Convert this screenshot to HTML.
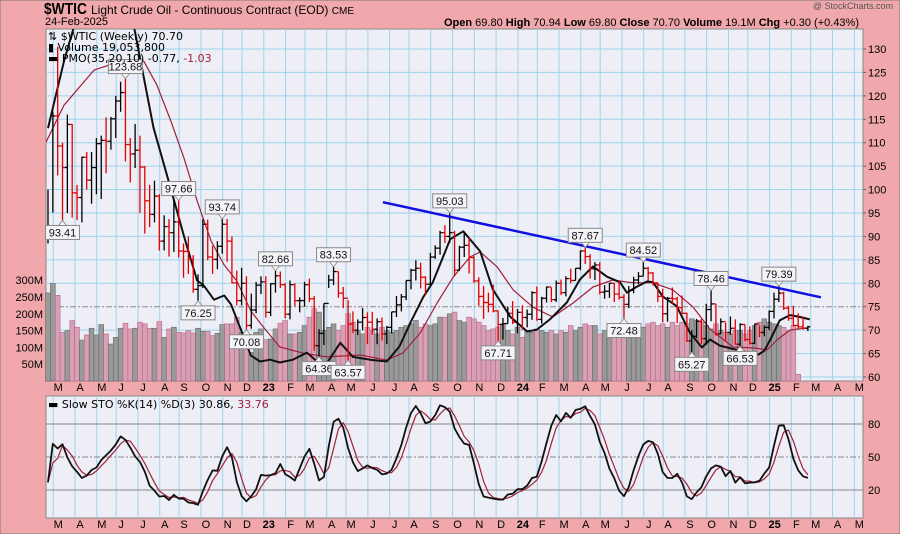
<!DOCTYPE html>
<html><head><meta charset="utf-8"><style>
html,body{margin:0;padding:0;background:#f0a8ac;}
svg{display:block;font-family:"Liberation Sans",sans-serif;}
</style></head><body>
<svg id="chart" width="900" height="534" viewBox="0 0 900 534" xmlns="http://www.w3.org/2000/svg">
<rect x="0" y="0" width="900" height="534" fill="#f0a8ac" stroke="#777"/>
<g>
<text x="44" y="14" font-size="16" font-weight="bold" textLength="43" lengthAdjust="spacingAndGlyphs">$WTIC</text>
<text x="91" y="14" font-size="12">Light Crude Oil - Continuous Contract (EOD) <tspan font-size="10">CME</tspan></text>
<text x="45" y="25" font-size="11">24-Feb-2025</text>
<text x="893" y="9" font-size="9" fill="#555" text-anchor="end">@ StockCharts.com</text>
<text x="859" y="26" font-size="11" text-anchor="end"><tspan font-weight="bold">Open</tspan> 69.80  <tspan font-weight="bold">High</tspan> 70.94  <tspan font-weight="bold">Low</tspan> 69.80  <tspan font-weight="bold">Close</tspan> 70.70  <tspan font-weight="bold">Volume</tspan> 19.1M  <tspan font-weight="bold">Chg</tspan> +0.30 (+0.43%)</text>
</g>
<rect x="46" y="29" width="817" height="352" fill="#eeeef6" stroke="#888"/>
<rect x="46" y="396" width="817" height="122" fill="#eeeef6" stroke="#888"/>
<g id="grid"></g>
<g id="vol"></g>
<g id="pmo"></g>
<g id="bars"></g>
<g id="notes"></g>
<g id="sto"></g>
<g id="axes"></g>
<g font-size="11" font-family="DejaVu Sans, sans-serif">
<text x="48" y="40">⇅ $WTIC (Weekly) 70.70</text>
<text x="48" y="51">▮ Volume 19,053,800</text>
<text x="48" y="62">▬ PMO(35,20,10) -0.77, <tspan fill="#a0203a">-1.03</tspan></text>
</g>
<g font-size="11" font-family="DejaVu Sans, sans-serif">
<text x="48" y="408">▬ Slow STO %K(14) %D(3) 30.86, <tspan fill="#a0203a">33.76</tspan></text>
</g>
</svg>
<script>
const highs=[100,116.6,130.5,110,116,114,101,107,108,108,111,111.5,115.4,115.5,120,123,123.68,111,114,111.5,105,101,101.9,99,94.5,93.7,97.7,97.66,88.5,90,86,81.9,93.7,93.6,88,89,93.74,93.7,90,82.7,83.3,81.5,77.8,80.3,81.5,81.5,80,82.66,82.5,80,80.6,80,77,80.3,81,77.3,70.2,75.7,81.8,83.53,82.5,79.2,76.4,74,72.3,74.7,73.8,73.9,72.5,72.7,70.9,73.9,77.3,77.7,80.6,83.1,84.9,84.4,81.5,86.5,88.1,91.2,92.4,95.03,91.2,88,90.8,89.9,85.8,81.3,79.4,78,79.7,74.2,72.6,75,76.2,74.5,75.3,74.4,78.3,79.3,77.1,79.3,79.1,80.6,80.8,81.5,83.1,83.2,87,87.67,86.2,84.5,84.5,79.6,80.1,80.1,80.6,77.7,79.4,81.4,82.4,84.52,83.5,82.4,80.1,78.8,77.1,79.1,77.1,77.4,73.7,70,72.4,72.4,75.6,78.46,75.6,72.5,71.6,72.9,72.3,71.5,71.2,70.8,71.4,71,71,74.2,78,79.39,78.2,75.2,75.2,73.6,72.9,70.94];
const lows=[88.5,95.1,103,93.41,95,94,93.5,93,100,97,99,98,103.5,108.5,111,116.6,106,101.5,104.6,95,90.6,92,93,87,87,85.7,86.7,85.5,81.2,82,78,76.25,79,84.9,82,83,86.3,84.6,80,75.3,75.3,70.08,70.3,73.6,77.7,72.7,73,78,79,72.5,72.3,75.1,73.8,75,76,65.6,64.36,66.8,79,79.6,76.9,74.7,63.57,69.4,69,70,67,69,67,67.8,67,69.3,72.8,74,76.4,78.7,80.6,78.9,77.6,79.6,85.2,86.1,88.6,88.6,81.5,82.7,85.6,82.1,80.1,75.2,72.4,73.8,73.8,67.71,68,71.4,71.3,69.3,70.1,70.6,72.2,72,71.4,75.9,76,76,77.5,77.2,80,80.6,82.8,84.1,81,80.7,77.6,76.7,76.9,76,76.5,72.48,74.7,77.9,79.8,81.6,80.6,79.5,76,71.7,71.8,75.6,71.5,73.3,67.5,65.27,68.3,67,66.9,71.9,68.8,69.2,67.6,69,66.9,66.53,67.6,66.9,67,68.5,68.7,70,72.5,76,74.3,72,70.8,70.2,70.1,69.8];
const closes=[91.6,115.7,109.3,104.7,113.9,99.3,98.3,106.9,102,104.7,109.8,110.5,110.3,115.1,118.9,120.7,109.6,107.6,108.4,104.8,97.6,94.7,98.6,89,92.1,90.8,93.1,86.9,86.8,85.1,78.7,79.5,92.6,85.6,85.1,87.9,92.6,89,80.1,76.3,80,71,74.3,79.6,80.3,73.8,79.9,81.6,79.7,73.4,79.7,76.3,76.3,79.7,76.7,66.7,69.3,75.7,80.7,82.5,77.9,76.8,71.3,70,71.7,72.7,71.7,70.2,71.8,69.2,70.6,73.9,75.4,77.1,80.6,82.8,83.2,81.3,79.8,85.6,87.5,90.8,90,90.8,82.8,87.7,88.1,85.5,80.5,77.2,75.9,75.5,74.1,71.2,71.4,73.6,71.7,73.8,72.7,73.4,78,72.3,76.8,79.2,76.5,80,78,81,80.6,83.2,86.9,85.7,83.1,83.9,78.1,78.3,80,77.7,77,75.5,78.5,80.7,81.5,83.2,82.2,80.1,77.2,73.5,76.8,76.7,74.8,73.6,67.7,68.7,71.9,68.2,74.4,75.6,69.2,71.8,69.5,70.4,67,71.2,68,67.2,71.3,69.5,70.6,74,76.6,77.9,74.7,72.5,71,70.7,70.4,70.7];
const volumes=[262,290,255,145,150,180,160,122,137,157,137,168,140,110,130,157,172,155,157,175,170,157,157,177,130,155,160,145,143,150,143,157,148,148,135,142,168,170,170,190,145,100,85,145,155,123,125,155,172,180,140,140,145,165,190,215,205,150,160,170,150,165,200,175,150,140,160,150,140,160,150,145,150,160,165,170,180,160,170,165,170,190,190,200,205,180,175,190,185,175,165,150,155,160,170,150,140,160,130,150,145,155,150,145,150,140,150,145,165,150,160,170,165,165,140,150,145,140,145,160,150,150,150,160,170,175,165,170,160,175,165,175,170,185,180,175,165,155,170,150,145,140,150,150,140,150,165,175,185,175,170,165,160,150,165,20];
const pmoWeek=[0,3.3,6,10,14,17.8,21.8,25.3,28,30.8,32.2,34.3,36.4,37.8,40.5,41.9,43.8,45.9,47.9,50.6,53.5,55.6,57.7,60.4,63,66.5,70,72.6,75.2,77.5,79.5,83.1,85.8,89.3,91.9,95.5,99,101,103.7,107.2,109.9,112.6,115.5,118.2,119.6,121.7,123.8,125,127,129.9,132.6,135.1,136.8,138.8,141.5,144.4,146.8,148,149.2,151.2,153.3,155.4,157.4];
const pmoVal=[113.1,127.4,137,142,140,134.5,113.2,100.4,90.4,80.6,79.5,76.5,77.4,75.5,68.4,64.6,63.3,63.7,63.1,63.7,65.2,63.3,63.1,67.3,64.3,63.7,63.3,66.5,72.3,77,80.2,89.4,91.1,86.8,78.7,72.9,69.7,70.1,72.3,75.9,80.8,83.6,81.4,80.2,78,79.3,80.4,80.2,77.2,75.1,69.5,66.3,68,66.7,66,65.3,64.8,65.6,67.9,72.1,73.2,72.8,72.3];
const sigWeek=[-0.8,3.3,9.5,15.7,19.8,22.5,25.4,28.1,30.8,33.7,36.4,39,41.9,44.6,47.9,52.7,57.6,64.5,70,73.3,76.9,80.4,83.7,87.2,89.3,92.8,96.1,100.2,104.3,108.5,112.6,116.7,120.9,125,129.1,133.3,136.8,141.5,145.7,148.6,150.6,153.3,156.8];
const sigVal=[109.3,118,125.5,127.6,127.4,122.3,114.6,106.7,97.6,89,83.9,80.5,74.1,70.5,66.4,65.1,64.3,64.7,63.6,65.1,69.4,75.8,81.3,85.6,86.7,83.5,78.6,74.9,72.8,75.8,79.2,80.7,80.1,80.1,78.6,74.9,70.2,66.4,66.2,65.8,67.9,70,70.5];
const trendWeek=[69.2,159.7];
const trendVal=[97.3,77.0];
const noteWeek=[3,16,27,36,31,41,47,56,59,62,83,93,111,119,123,133,137,143,151];
const noteVal=[93.41,123.68,97.66,93.74,76.25,70.08,82.66,64.36,83.53,63.57,95.03,67.71,87.67,72.48,84.52,65.27,78.46,66.53,79.39];
const noteHigh=[0,1,1,1,0,0,1,0,1,0,1,0,1,0,1,0,1,0,1];
const priceTicks=[60,65,70,75,80,85,90,95,100,105,110,115,120,125,130];
const volTicks=[50,100,150,200,250,300];
const volTickLabels=["50M","100M","150M","200M","250M","300M"];
const stoTicks=[20,50,80];
const monthWeek=[1.5,6,10.5,14.5,19,23.5,27.5,32,36.5,40.5,45,49.5,53.5,58,62,66.5,71,75,79.5,84,88.5,93,97.5,101.5,106,110.5,114.5,119,123.5,127.5,132,136.5,141,145,149.5,154,158,162.5,167];
const monthLabel=["M","A","M","J","J","A","S","O","N","D","23","F","M","A","M","J","J","A","S","O","N","D","24","F","M","A","M","J","J","A","S","O","N","D","25","F","M","A","M"];

const NS="http://www.w3.org/2000/svg";
const L=46,R=863,PT=29,PB=381,ST=396,SB=518;
const xw=i=>48+i*4.84;
const yp=p=>377-(p-60)*4.686;
const yv=v=>381-v*0.336;
const ys=v=>457-(v-50)*1.1;
function mk(parent,tag,attrs){const e=document.createElementNS(NS,tag);for(const k in attrs)e.setAttribute(k,attrs[k]);document.getElementById(parent).appendChild(e);return e;}

for(let m=0;m<monthWeek.length;m++){
  const x=xw(monthWeek[m])-2;
  if(x<L||x>R)continue;
  let g=mk('grid','line',{x1:x,x2:x,y1:PT,y2:PB,stroke:'#9cd4ec','stroke-width':1});
  
  
  g=mk('grid','line',{x1:x,x2:x,y1:ST,y2:SB,stroke:'#9cd4ec','stroke-width':1});
  
  
  const bold=/\d/.test(monthLabel[m]);
  for(const yy of [391,528]){
    const t=mk('axes','text',{x:x+5,y:yy,'font-size':11,'text-anchor':'middle','font-weight':bold?'bold':'normal'});
    t.textContent=monthLabel[m];
    
    
  }
}
for(const p of priceTicks){
  const y=yp(p);
  const g=mk('grid','line',{x1:L,x2:R,y1:y,y2:y,stroke:p===75?'#888':'#9cd4ec','stroke-width':1,'stroke-dasharray':p===75?'6,2,2,2':'none'});
  
  
  const t=mk('axes','text',{x:868,y:y+4,'font-size':11});
  t.textContent=p;
  
  
  mk('axes','line',{x1:R,x2:R+3,y1:y,y2:y,stroke:'#666'});
}
for(let i=0;i<volTicks.length;i++){
  const y=yv(volTicks[i]);
  const t=mk('axes','text',{x:43,y:y+4,'font-size':11,'text-anchor':'end'});
  t.textContent=volTickLabels[i];
  
  
}
for(const v of stoTicks){
  const y=ys(v);
  const g=mk('grid','line',{x1:L,x2:R,y1:y,y2:y,stroke:'#888','stroke-width':1,'stroke-dasharray':v===50?'6,2,2,2':'none'});
  
  
  const t=mk('axes','text',{x:868,y:y+4,'font-size':11});
  t.textContent=v;
  
  
}

for(let i=0;i<volumes.length;i++){
  const up=i===0||closes[i]>=closes[i-1];
  const y=yv(volumes[i]);
  const r=mk('vol','rect',{x:xw(i)-2.42,y:y,width:4.84,height:381-y,fill:up?'#9a9a9a':'#d8a0b4',stroke:up?'#666':'#b86888','stroke-width':0.6});
  
  
}

function poly(parent,wk,vals,fn,color,w,name){
  const pts=wk.map((k,i)=>xw(k).toFixed(1)+','+fn(vals[i]).toFixed(1)).join(' ');
  const p=mk(parent,'polyline',{points:pts,fill:'none',stroke:color,'stroke-width':w,'stroke-linejoin':'round'});
  
  
  return p;
}
const cp=mk('pmo','clipPath',{id:'pc'});
const cr=document.createElementNS(NS,'rect');
cr.setAttribute('x',L);cr.setAttribute('y',PT);cr.setAttribute('width',R-L);cr.setAttribute('height',PB-PT);
cp.appendChild(cr);
document.getElementById('pmo').setAttribute('clip-path','url(#pc)');
poly('pmo',sigWeek,sigVal,yp,'#a0203a',1.2,'pmo-signal-line');
poly('pmo',pmoWeek,pmoVal,yp,'#111',2,'pmo-line');

document.getElementById('bars').setAttribute('clip-path','url(#pc)');
for(let i=0;i<closes.length;i++){
  const prev=i===0?closes[0]:closes[i-1];
  const up=closes[i]>=prev;
  const c=up?'#000':'#e00000';
  const x=xw(i);
  const g=mk('bars','g',{stroke:c,'stroke-width':1.3});
  
  
  const a=(t,o)=>{const e=document.createElementNS(NS,t);for(const k in o)e.setAttribute(k,o[k]);g.appendChild(e);};
  a('line',{x1:x,x2:x,y1:yp(highs[i]),y2:yp(lows[i])});
  a('line',{x1:x-2.4,x2:x,y1:yp(prev),y2:yp(prev)});
  a('line',{x1:x,x2:x+2.4,y1:yp(closes[i]),y2:yp(closes[i])});
}
poly('bars',trendWeek,trendVal,yp,'#1010e0',2.5,'resistance-trendline');

for(let i=0;i<noteWeek.length;i++){
  const x=xw(noteWeek[i]),y=yp(noteVal[i]);
  const txt=noteVal[i].toFixed(2);
  const w=34,h=14;
  const by=noteHigh[i]?y-5-h:y+5;
  const g=mk('notes','g',{});
  
  
  const a=(t,o)=>{const e=document.createElementNS(NS,t);for(const k in o)e.setAttribute(k,o[k]);g.appendChild(e);return e;};
  a('rect',{x:x-w/2,y:by,width:w,height:h,fill:'#f4f4f8',stroke:'#888','stroke-width':1});
  const py=noteHigh[i]?by+h:by;
  a('polygon',{points:`${x-4},${py} ${x+4},${py} ${x},${y}`,fill:'#f4f4f8',stroke:'#888','stroke-width':0.8});
  const t=a('text',{x:x,y:by+11,'font-size':11,'text-anchor':'middle',fill:'#111'});
  t.textContent=txt;
}

const rawK=closes.map((c,i)=>{const s=Math.max(0,i-13);let hh=-1e9,ll=1e9;for(let j=s;j<=i;j++){hh=Math.max(hh,highs[j]);ll=Math.min(ll,lows[j]);}return hh===ll?50:(c-ll)/(hh-ll)*100;});
const sma=(a,n)=>a.map((v,i)=>{const s=Math.max(0,i-n+1);let t=0;for(let j=s;j<=i;j++)t+=a[j];return t/(i-s+1);});
const slowK=sma(rawK,3),slowD=sma(slowK,3);
const idx=closes.map((_,i)=>i);
poly('sto',idx,slowD,ys,'#a0203a',1.2,'sto-d-line');
poly('sto',idx,slowK,ys,'#111',1.8,'sto-k-line');
</script>
</body></html>
